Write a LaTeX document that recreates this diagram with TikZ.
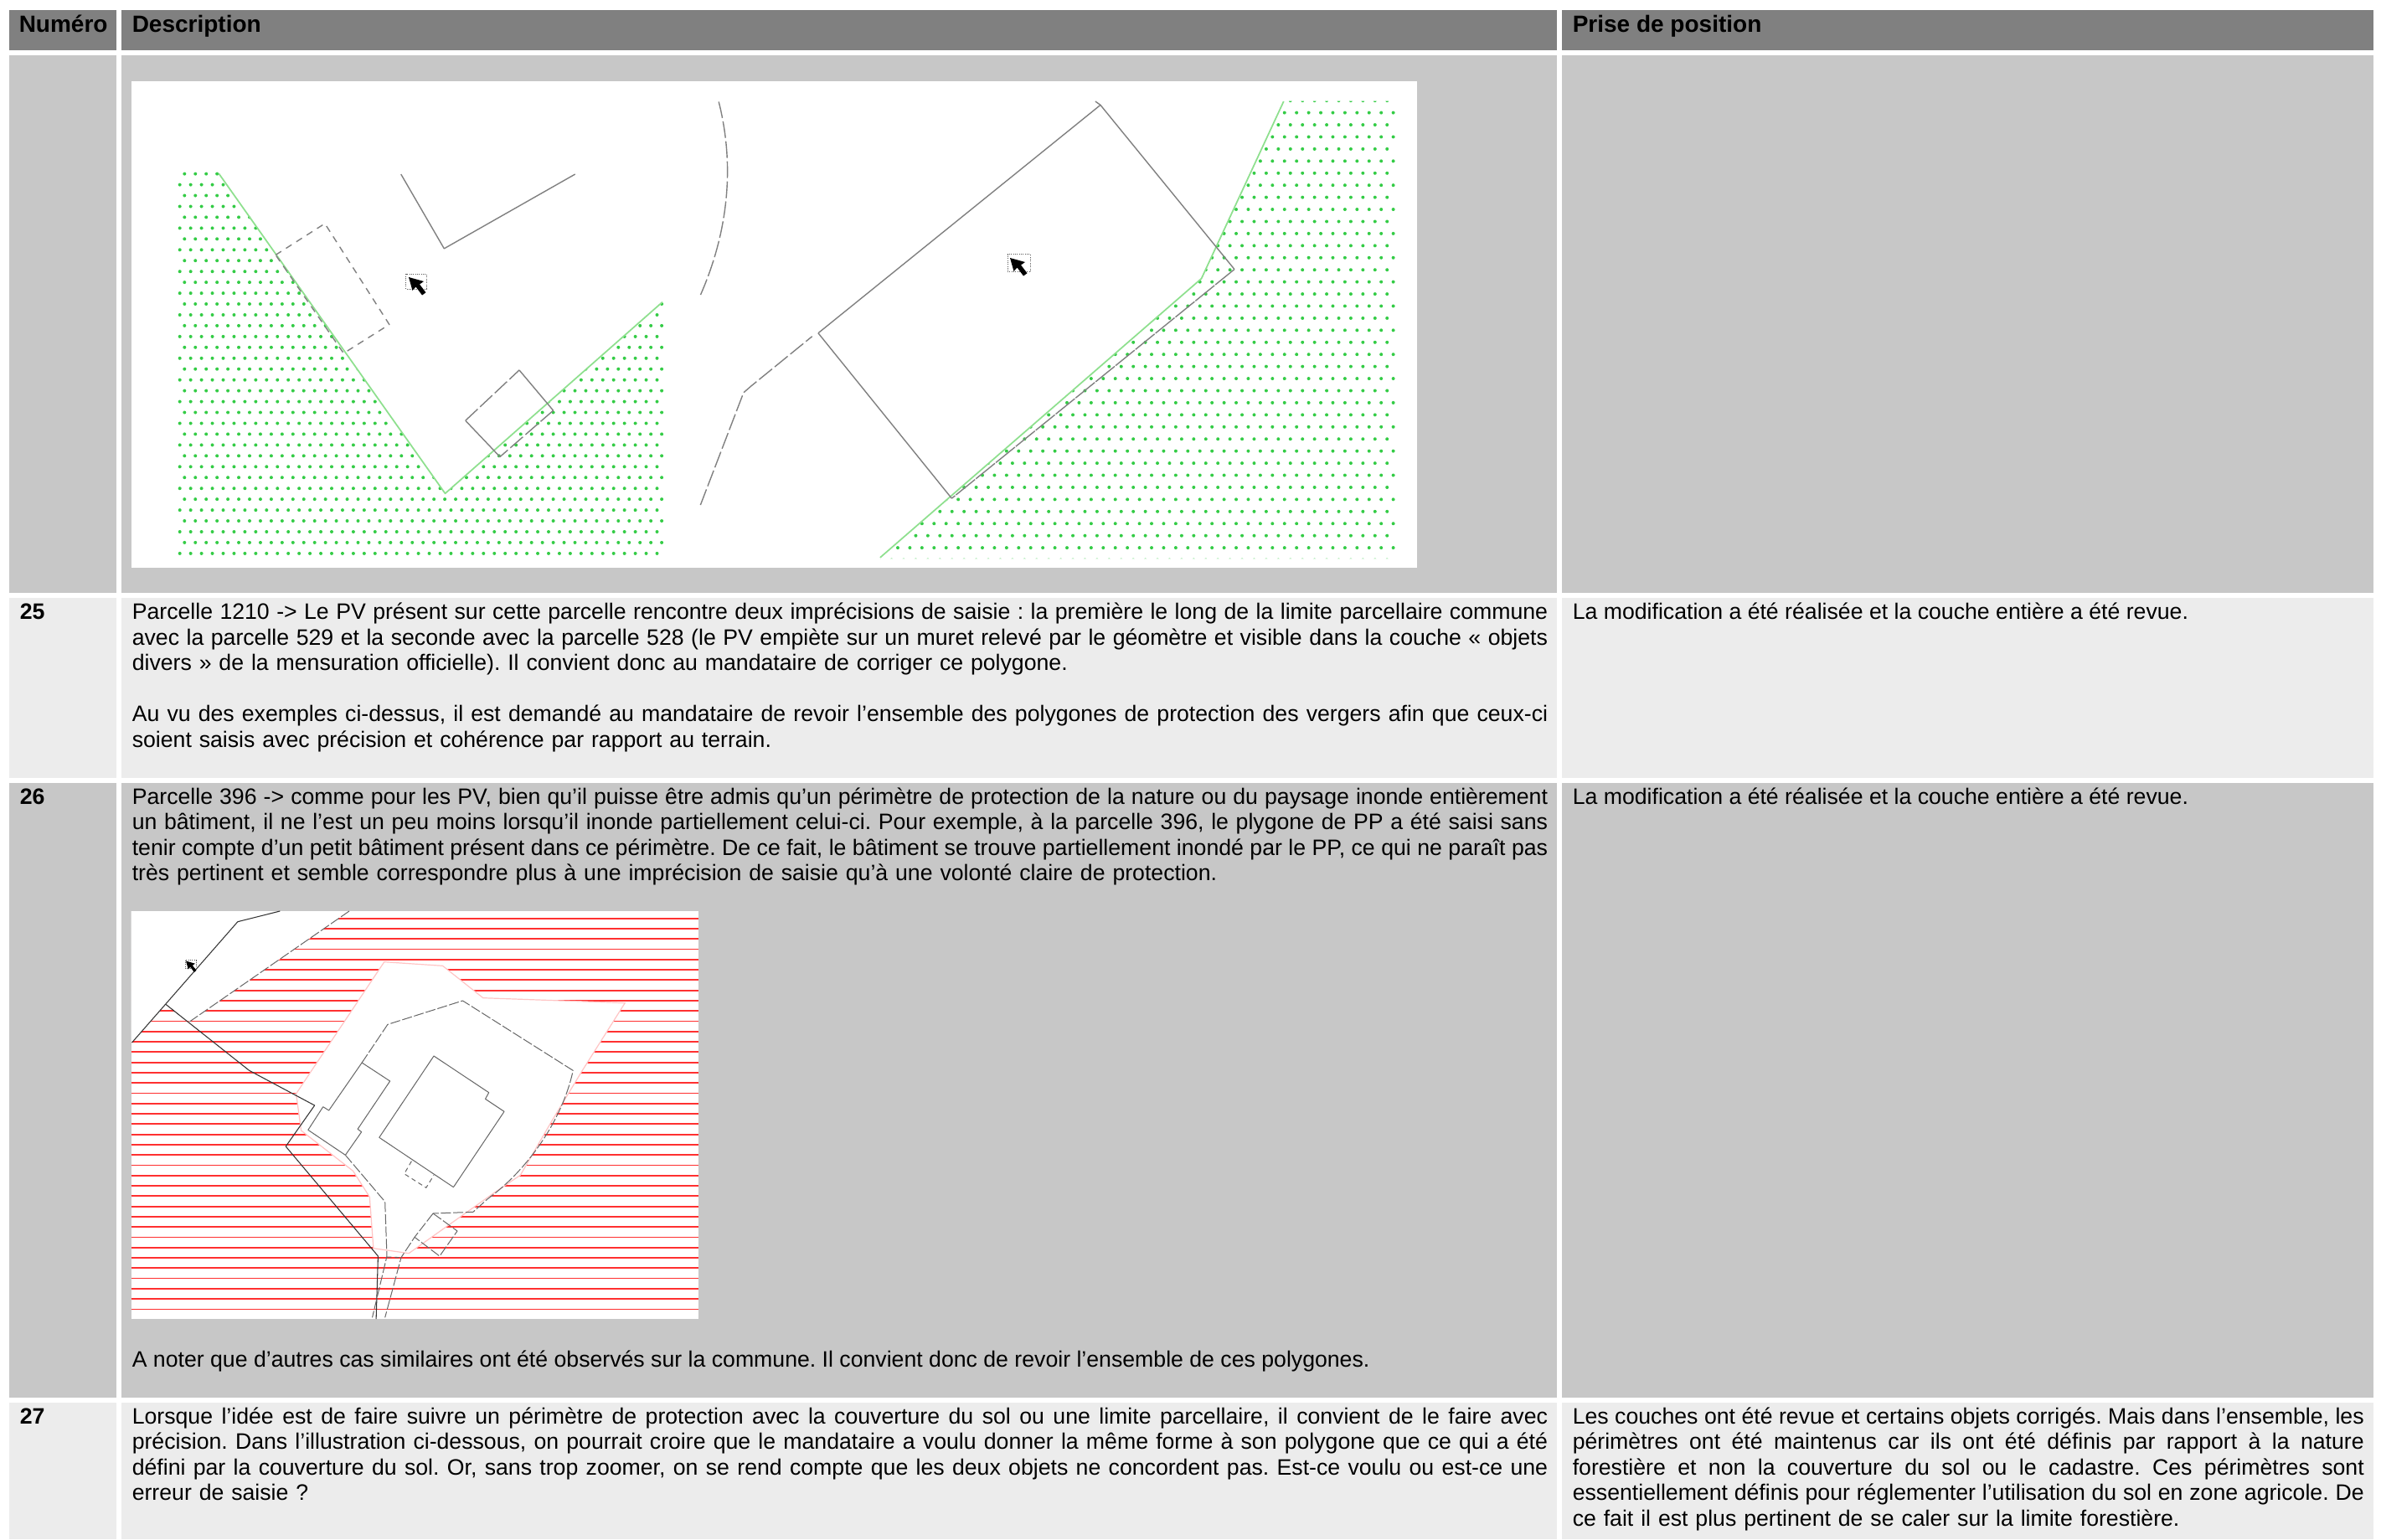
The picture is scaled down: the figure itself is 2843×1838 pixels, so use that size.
\documentclass[tikz,border=0pt]{standalone}
\usepackage{fontspec}
\setmainfont{Liberation Sans}
\frenchspacing
\newcommand\ft{\rule{0pt}{15pt}}
\newcommand\jl[1]{\leavevmode\hbox to\linewidth{\spaceskip=.278em plus 1fil minus .2em\relax #1}\\}
\definecolor{hdr}{HTML}{808080}
\definecolor{rowd}{HTML}{C7C7C7}
\definecolor{rowl}{HTML}{ECECEC}
\definecolor{dotg}{HTML}{34CC46}
\definecolor{lineg}{HTML}{8EE08E}
\definecolor{hatch}{HTML}{FF3030}
\definecolor{pinkb}{HTML}{FFC4C4}
\tikzset{
  txt/.style={anchor=north west,inner sep=0pt,align=left,font=\fontsize{20}{22.9}\selectfont},
  coltwo/.style={txt,text width=1267.9pt},
  colthree/.style={txt,text width=708.75pt},
  head/.style={anchor=base west,inner sep=0pt,font=\fontsize{21}{24}\selectfont\bfseries},
  num/.style={txt,font=\fontsize{20}{22.9}\selectfont\bfseries},
  gsolid/.style={draw=black!50,line width=1.05pt,line join=round},
  gdash/.style={gsolid,dash pattern=on 15pt off 3pt},
  gshort/.style={gsolid,dash pattern=on 6pt off 5pt},
  glinen/.style={draw=lineg,line width=1.3pt,line join=round},
  rsolid/.style={draw=black!60,line width=0.75pt,line join=round},
  rdash/.style={rsolid,dash pattern=on 9pt off 2pt},
  rshort/.style={rsolid,dash pattern=on 4pt off 3pt},
  rblack/.style={draw=black!80,line width=0.8pt,line join=round},
  cursorbox/.style={draw=black!65,line width=0.75pt,densely dotted}
}
\begin{document}
\begin{tikzpicture}[x=0.75pt,y=-0.75pt]
\useasboundingbox (0,0) rectangle (2843,1838);
\fill[white] (0,0) rectangle (2843,1838);
% table cells
\fill[hdr] (11,12) rectangle (139,60);
\fill[hdr] (145,12) rectangle (1859,60);
\fill[hdr] (1865,12) rectangle (2834,60);
\fill[rowd] (11,66) rectangle (139,708);
\fill[rowd] (145,66) rectangle (1859,708);
\fill[rowd] (1865,66) rectangle (2834,708);
\fill[rowl] (11,714) rectangle (139,929);
\fill[rowl] (145,714) rectangle (1859,929);
\fill[rowl] (1865,714) rectangle (2834,929);
\fill[rowd] (11,935) rectangle (139,1669);
\fill[rowd] (145,935) rectangle (1859,1669);
\fill[rowd] (1865,935) rectangle (2834,1669);
\fill[rowl] (11,1675) rectangle (139,1838);
\fill[rowl] (145,1675) rectangle (1859,1838);
\fill[rowl] (1865,1675) rectangle (2834,1838);
% headers
\node[head] (hnum) at (22.5,38) {Numéro};
\node[head] (hdesc) at (157.5,38) {Description};
\node[head] (hpos) at (1877.5,38) {Prise de position};
% first picture
\fill[white] (157,97) rectangle (1692,678);
\begin{scope}
\clip (205,200) -- (262,200) -- (262,207) -- (531.5,589) -- (791.5,360) -- (796,360) -- (796,670) -- (205,670) -- cycle;
\fill[dotg] \foreach \r in {0,...,17} { \foreach \c in {0,...,44} { ({220.3+12.95*\c},{207.6+25.9*\r}) circle (2.0) ({214.7+12.95*\c},{220.6+25.9*\r}) circle (2.0) } };
\end{scope}
\begin{scope}
\clip (1532.7,120.5) -- (1434.5,333) -- (1051,667) -- (1672,667) -- (1672,120.5) -- cycle;
\fill[dotg] \foreach \r in {0,...,19} { \foreach \c in {0,...,43} { ({1656.2-14.43*\c},{120.2+28.86*\r}) circle (2.0) ({1663.6-14.43*\c},{134.6+28.86*\r}) circle (2.0) } };
\end{scope}
\begin{scope}[xscale=0.60606,yscale=0.44643]
\draw[glinen] (431,464) -- (877,1320) -- (1305,808);
\draw[gsolid] (790,466) -- (875,665) -- (1133,466);
\draw[gshort] (543,682) -- (640,598) -- (767,868) -- (677,945) -- cycle;
\draw[gdash] (917,1125) -- (1023,990);
\draw[gsolid] (1023,990) -- (1090,1098);
\draw[gdash] (1090,1098) -- (985,1222);
\draw[gsolid] (985,1222) -- (917,1125);
\draw[cursorbox] (800,733) rectangle (840,773);
\end{scope}
\begin{scope}[shift={(800,80)},xscale=0.60606,yscale=0.39474]
\draw[glinen] (1209,104) -- (1047,640) -- (414,1484);
\draw[gdash] (96,105) .. controls (125,280) and (120,480) .. (60,690);
\draw[gdash] (60,1325) -- (145,985) -- (160,965) -- (280,815);
\draw[gsolid] (292,805) -- (848,115) -- (1112,612);
\draw[gsolid] (292,805) -- (555,1305);
\draw[gdash,dash pattern=on 22pt off 1pt] (1112,612) -- (555,1305);
\draw[gsolid] (838,104) -- (848,115);
\draw[cursorbox] (665,567) rectangle (710,620);
\end{scope}
\fill[black] (488,331) -- ++(4.5,16) -- ++(4,-4.5) -- ++(7.5,10) -- ++(4.5,-3.2) -- ++(-7.5,-9.8) -- ++(5,-3.5) -- cycle;
\fill[black] (1206,308) -- ++(4.5,16) -- ++(4,-4.5) -- ++(7.5,10) -- ++(4.5,-3.2) -- ++(-7.5,-9.8) -- ++(5,-3.5) -- cycle;
% second picture
\fill[white] (156.6,1088) rectangle (834,1575);
\begin{scope}[shift={(130,1070)},xscale=0.45918,yscale=0.33333]
\foreach \k in {0,...,38} { \draw[hatch,line width=1.35pt] (58,{80+36.85*\k}) -- (1533,{80+36.85*\k}); }
\fill[white] (58,54) -- (625,54) -- (210,450) -- (148,388) -- (58,525) -- cycle;
\fill[white] (716,236) -- (868,250) -- (973,365) -- (1342,383) -- (1228,632) -- (1150,810) -- (1070,1000) -- (1005,1060) -- (780,1280) -- (688,1262) -- (678,1078) -- (635,985) -- (500,840) -- (487,708) -- cycle;
\draw[pinkb,line width=0.9pt] (716,236) -- (868,250) -- (973,365) -- (1342,383) -- (1228,632) -- (1150,810) -- (1070,1000) -- (1005,1060) -- (780,1280) -- (688,1262) -- (678,1078) -- (635,985) -- (500,840) -- (487,708) -- cycle;
\draw[rblack] (445,54) -- (335,92) -- (60,525);
\draw[rblack] (148,388) -- (365,625) -- (535,750) -- (460,897) -- (700,1290) -- (695,1515);
\draw[rdash] (625,54) -- (210,450);
\draw[rdash] (658,597) -- (725,460) -- (920,375) -- (1207,625) .. controls (1180,800) and (1090,980) .. (985,1085) -- (947,1132) -- (843,1137);
\draw[rsolid] (658,597) -- (572,768) -- (557,755) -- (518,838) -- (615,928);
\draw[rsolid] (658,597) -- (731,663) -- (647,835) -- (657,845) -- (615,928);
\draw[rdash] (615,928) -- (718,1095) -- (723,1290) -- (685,1510);
\draw[rdash] (843,1137) -- (795,1222) -- (760,1295) -- (718,1510);
\draw[rshort] (723,1293) -- (760,1295);
\draw[rsolid] (845,573) -- (988,704) -- (979,727) -- (1028,772) -- (896,1043) -- (703,865) -- cycle;
\draw[rshort] (787,950) -- (768,995) -- (825,1045) -- (845,1000);
\draw[rdash] (843,1137) -- (906,1200) -- (860,1290) -- (795,1222);
\draw[cursorbox,line width=0.5pt] (198,230) rectangle (227,260);
\end{scope}
\fill[black] (222,1147.5) -- ++(2.8,10) -- ++(2.4,-2.8) -- ++(4.6,6.2) -- ++(2.7,-2) -- ++(-4.6,-6) -- ++(3,-2.2) -- cycle;
% row 25
\node[num] (n25) at (23.5,719.5) {\ft 25};
\node[coltwo] (d25) at (157.5,719.5) {\ft\jl{Parcelle 1210 -> Le PV présent sur cette parcelle rencontre deux imprécisions de saisie : la première le long de la limite parcellaire commune}\jl{avec la parcelle 529 et la seconde avec la parcelle 528 (le PV empiète sur un muret relevé par le géomètre et visible dans la couche « objets}divers » de la mensuration officielle). Il convient donc au mandataire de corriger ce polygone.\\[22.9pt]\jl{Au vu des exemples ci-dessus, il est demandé au mandataire de revoir l’ensemble des polygones de protection des vergers afin que ceux-ci}soient saisis avec précision et cohérence par rapport au terrain.};
\node[txt] (p25) at (1877.5,719.5) {\ft La modification a été réalisée et la couche entière a été revue.};
% row 26
\node[num] (n26) at (23.5,940) {\ft 26};
\node[coltwo] (d26) at (157.5,940) {\ft\jl{Parcelle 396 -> comme pour les PV, bien qu’il puisse être admis qu’un périmètre de protection de la nature ou du paysage inonde entièrement}\jl{un bâtiment, il ne l’est un peu moins lorsqu’il inonde partiellement celui-ci. Pour exemple, à la parcelle 396, le plygone de PP a été saisi sans}\jl{tenir compte d’un petit bâtiment présent dans ce périmètre. De ce fait, le bâtiment se trouve partiellement inondé par le PP, ce qui ne paraît pas}très pertinent et semble correspondre plus à une imprécision de saisie qu’à une volonté claire de protection.};
\node[txt] (p26) at (1877.5,940) {\ft La modification a été réalisée et la couche entière a été revue.};
\node[txt] (d26b) at (157.5,1612.5) {\ft A noter que d’autres cas similaires ont été observés sur la commune. Il convient donc de revoir l’ensemble de ces polygones.};
% row 27
\node[num] (n27) at (23.5,1680) {\ft 27};
\node[coltwo] (d27) at (157.5,1680) {\ft\jl{Lorsque l’idée est de faire suivre un périmètre de protection avec la couverture du sol ou une limite parcellaire, il convient de le faire avec}\jl{précision. Dans l’illustration ci-dessous, on pourrait croire que le mandataire a voulu donner la même forme à son polygone que ce qui a été}\jl{défini par la couverture du sol. Or, sans trop zoomer, on se rend compte que les deux objets ne concordent pas. Est-ce voulu ou est-ce une}erreur de saisie ?};
\node[colthree] (p27) at (1877.5,1680) {\ft\jl{Les couches ont été revue et certains objets corrigés. Mais dans l’ensemble, les}\jl{périmètres ont été maintenus car ils ont été définis par rapport à la nature}\jl{forestière et non la couverture du sol ou le cadastre. Ces périmètres sont}\jl{essentiellement définis pour réglementer l’utilisation du sol en zone agricole. De}ce fait il est plus pertinent de se caler sur la limite forestière.};
\end{tikzpicture}
\end{document}
